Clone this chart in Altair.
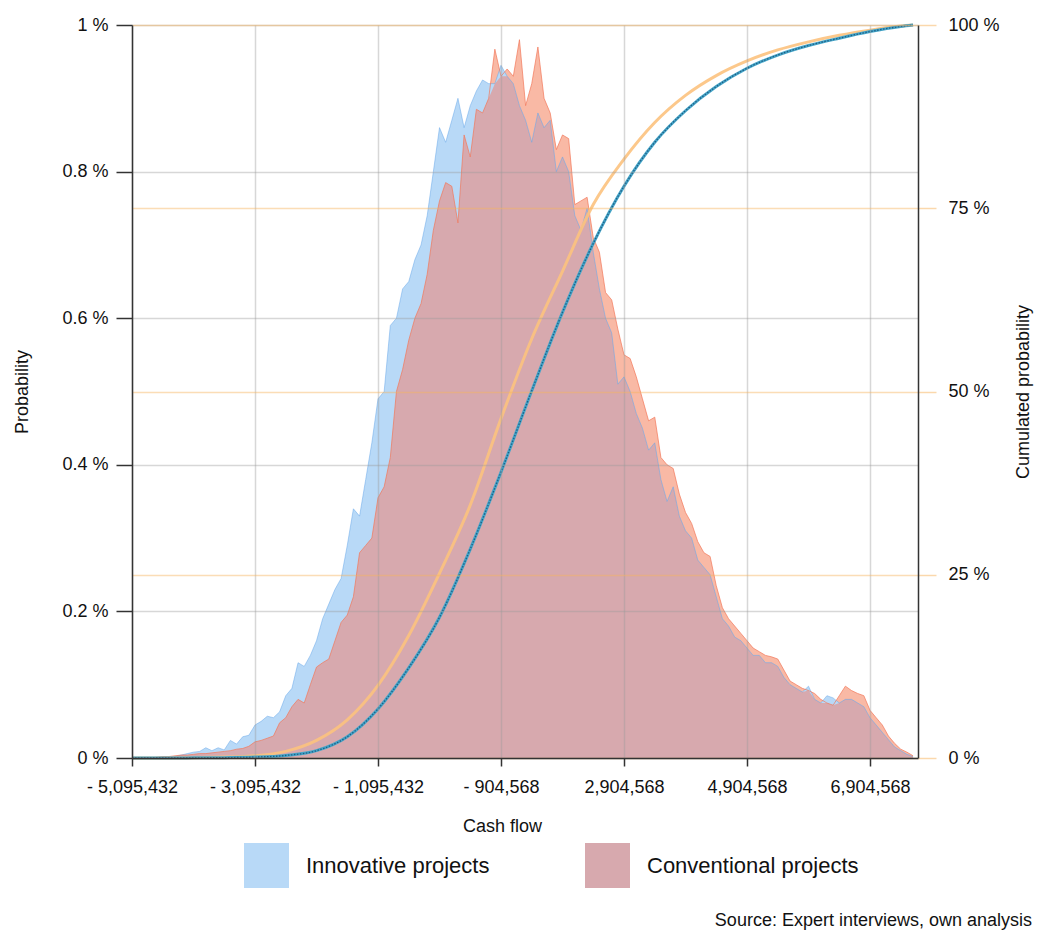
import altair as alt
import pandas as pd

# ---------------- data ----------------
BIN_START = -5_095_432      # cash flow of the first histogram bin
BIN_STEP = 100_000          # width of one histogram bin

# probability per bin, in %
innovative = [
    0, 0, 0, 0, 0, 0.001, 0.001, 0.002, 0.004, 0.006,
    0.008, 0.009, 0.014, 0.010, 0.014, 0.011, 0.024, 0.019, 0.029, 0.031,
    0.045, 0.050, 0.057, 0.055, 0.063, 0.085, 0.095, 0.130, 0.125, 0.140,
    0.160, 0.190, 0.210, 0.230, 0.245, 0.290, 0.340, 0.330, 0.380, 0.430,
    0.490, 0.500, 0.590, 0.600, 0.640, 0.650, 0.680, 0.700, 0.740, 0.800,
    0.860, 0.840, 0.870, 0.900, 0.860, 0.890, 0.910, 0.925, 0.920, 0.920,
    0.945, 0.930, 0.920, 0.890, 0.870, 0.840, 0.880, 0.860, 0.870, 0.800,
    0.820, 0.800, 0.740, 0.720, 0.750, 0.690, 0.640, 0.600, 0.580, 0.510,
    0.520, 0.500, 0.470, 0.450, 0.420, 0.430, 0.380, 0.350, 0.370, 0.330,
    0.310, 0.300, 0.270, 0.260, 0.250, 0.220, 0.190, 0.180, 0.165, 0.160,
    0.150, 0.140, 0.140, 0.130, 0.130, 0.125, 0.110, 0.100, 0.095, 0.090,
    0.098, 0.080, 0.075, 0.085, 0.082, 0.075, 0.080, 0.080, 0.075, 0.070,
    0.055, 0.045, 0.035, 0.025, 0.015, 0.010, 0.005, 0.002,
]
conventional = [
    0, 0, 0, 0, 0.001, 0.002, 0.002, 0.003, 0.004, 0.004,
    0.005, 0.006, 0.006, 0.007, 0.008, 0.009, 0.010, 0.012, 0.013, 0.016,
    0.022, 0.024, 0.027, 0.030, 0.048, 0.055, 0.070, 0.080, 0.075, 0.100,
    0.124, 0.130, 0.135, 0.160, 0.185, 0.195, 0.220, 0.280, 0.290, 0.300,
    0.355, 0.370, 0.410, 0.500, 0.530, 0.570, 0.600, 0.620, 0.660, 0.720,
    0.760, 0.785, 0.780, 0.730, 0.850, 0.820, 0.885, 0.880, 0.900, 0.967,
    0.930, 0.940, 0.930, 0.980, 0.890, 0.920, 0.970, 0.900, 0.880, 0.830,
    0.850, 0.845, 0.755, 0.760, 0.765, 0.710, 0.690, 0.635, 0.625, 0.585,
    0.550, 0.545, 0.520, 0.490, 0.460, 0.465, 0.410, 0.400, 0.395, 0.360,
    0.335, 0.320, 0.295, 0.280, 0.275, 0.235, 0.205, 0.190, 0.180, 0.170,
    0.160, 0.150, 0.145, 0.140, 0.138, 0.135, 0.120, 0.105, 0.100, 0.095,
    0.092, 0.088, 0.080, 0.075, 0.072, 0.085, 0.098, 0.092, 0.088, 0.085,
    0.065, 0.055, 0.045, 0.030, 0.020, 0.012, 0.008, 0.003,
]

# cumulated probability (%), read at every fifth bin
cum_bins = [0, 5, 10, 15, 20, 25, 30, 35, 40, 45, 50, 55, 60, 65, 70, 75,
            80, 85, 90, 95, 100, 105, 110, 115, 120, 125, 127]
cum_innovative = [0, 0.01, 0.05, 0.12, 0.3, 0.9, 2.4, 5.2, 9.9, 16.7, 25.2,
                  34.5, 46.3, 57.2, 66.4, 75.5, 81.7, 86.7, 90.4, 93.1, 95.1,
                  96.6, 97.7, 98.6, 99.3, 99.85, 100]
cum_conventional = [0, 0, 0.02, 0.05, 0.12, 0.35, 1.0, 2.9, 6.7, 12.3, 19.2,
                    28.5, 39.0, 50.1, 60.8, 70.2, 78.0, 84.0, 88.3, 91.6, 94.1,
                    95.9, 97.2, 98.2, 99.1, 99.8, 100]

x_tick_values = [-5_095_432, -3_095_432, -1_095_432, 904_568, 2_904_568,
                 4_904_568, 6_904_568]
x_tick_labels = ["- 5,095,432", "- 3,095,432", "- 1,095,432", "- 904,568",
                 "2,904,568", "4,904,568", "6,904,568"]
x_domain = [-5_095_432, 7_685_056]
prob_ticks = [0, 0.2, 0.4, 0.6, 0.8, 1]
cum_ticks = [0, 25, 50, 75, 100]
series_names = ["Innovative projects", "Conventional projects"]

# ---------------- tables ----------------
hist = pd.DataFrame({
    "cash_flow": [BIN_START + BIN_STEP * i for i in range(len(innovative))],
    "innovative": innovative,
    "conventional": conventional,
})
cum = pd.DataFrame({
    "cash_flow": [BIN_START + BIN_STEP * k for k in cum_bins],
    "cum_innovative": cum_innovative,
    "cum_conventional": cum_conventional,
})

FONT = "Liberation Sans"
DARK = "#333333"

x_label_expr = (
    "[" + ",".join(f"'{l}'" for l in x_tick_labels) + "][indexof(["
    + ",".join(str(v) for v in x_tick_values) + "], datum.value)]"
)

x_enc = alt.X(
    "cash_flow:Q",
    scale=alt.Scale(domain=x_domain, nice=False, zero=False),
    axis=alt.Axis(
        values=x_tick_values, labelExpr=x_label_expr, title="Cash flow",
        grid=True, gridColor="#9a9a9a", gridOpacity=0.4, gridWidth=1.5,
        tickSize=8, tickColor=DARK, tickWidth=1.5,
        domainColor=DARK, domainWidth=1.5,
        labelFontSize=18, labelPadding=12, labelColor="#111",
        labelFlush=False, labelOverlap=False,
        titleFontSize=18, titleFontWeight="normal", titleColor="#111",
        titlePadding=21, titleX=370, zindex=1,
    ),
)

y_left_scale = alt.Scale(domain=[0, 1], nice=False, zero=True)
axis_left = alt.Axis(
    values=prob_ticks, labelExpr="datum.value + ' %'", title="Probability",
    grid=True, gridColor="#9a9a9a", gridOpacity=0.4, gridWidth=1.5,
    tickSize=16, tickColor=DARK, tickWidth=1.5,
    domainColor=DARK, domainWidth=1.5,
    labelFontSize=18, labelPadding=8, labelColor="#111",
    titleFontSize=18, titleFontWeight="normal", titleColor="#111",
    titlePadding=30, zindex=1,
)

y_right_scale = alt.Scale(domain=[0, 100], nice=False, zero=True)
axis_right = alt.Axis(
    orient="right", values=cum_ticks, labelExpr="datum.value + ' %'",
    title="Cumulated probability",
    grid=True, gridColor="#f7b45e", gridOpacity=0.45, gridWidth=1.5,
    tickSize=18, tickColor="#fbd8ac", tickWidth=1.5,
    domainColor=DARK, domainWidth=1.5,
    labelFontSize=18, labelPadding=12, labelColor="#111",
    titleFontSize=18, titleFontWeight="normal", titleColor="#111",
    titleAngle=270, titleBaseline="top", titlePadding=15, zindex=1,
)

color_scale = alt.Scale(domain=series_names, range=["#b8d9f7", "#d7a9ae"])
legend = alt.Legend(
    title=None, orient="none", legendX=112, legendY=818,
    direction="horizontal", symbolType="square", symbolSize=2025,
    symbolStrokeWidth=0, symbolOpacity=1, labelFontSize=22, labelOffset=17,
    columnPadding=95, padding=0, labelColor="#111", labelLimit=400,
)
color_enc = alt.Color("series:N", scale=color_scale, legend=legend)


def y_left(field):
    return alt.Y(field, scale=y_left_scale, axis=axis_left)


def y_right(field):
    return alt.Y(field, scale=y_right_scale, axis=axis_right)


base_h = alt.Chart(hist)

conv_top = base_h.mark_area(color="#f9b9a5", interpolate="linear").encode(
    x=x_enc, y=y_left("conventional:Q"))
innov_area = base_h.transform_calculate(
    series=f"'{series_names[0]}'"
).mark_area(interpolate="linear", opacity=1).encode(
    x=x_enc, y=y_left("innovative:Q"), color=color_enc)
overlap_area = base_h.transform_calculate(
    overlap="min(datum.innovative, datum.conventional)",
    series=f"'{series_names[1]}'",
).mark_area(interpolate="linear", opacity=1).encode(
    x=x_enc, y=y_left("overlap:Q"), color=color_enc)
innov_line = base_h.mark_line(color="#5a9fe6", strokeWidth=1, opacity=0.45).encode(
    x=x_enc, y=y_left("innovative:Q"))
conv_line = base_h.mark_line(color="#f2785a", strokeWidth=1, opacity=0.7).encode(
    x=x_enc, y=y_left("conventional:Q"))

base_c = alt.Chart(cum)
cum_orange = base_c.mark_line(color="#fcc27e", strokeWidth=3, opacity=0.9,
                              interpolate="monotone").encode(
    x=x_enc, y=y_right("cum_innovative:Q"))
cum_teal = base_c.mark_line(color="#45a5c8", strokeWidth=3,
                            interpolate="monotone").encode(
    x=x_enc, y=y_right("cum_conventional:Q"))
cum_teal_dots = base_c.mark_line(color="#1e5d85", strokeWidth=1.3,
                                 strokeDash=[1.5, 1.5],
                                 interpolate="monotone").encode(
    x=x_enc, y=y_right("cum_conventional:Q"))

left = alt.layer(conv_top, innov_area, overlap_area, innov_line, conv_line)
right = alt.layer(cum_orange, cum_teal, cum_teal_dots)

chart = alt.layer(left, right).resolve_scale(y="independent").properties(
    width=786, height=733,
    autosize=alt.AutoSizeParams(type="none"),
    padding={"left": 124, "top": 17, "right": 117, "bottom": 174},
    title=alt.TitleParams(
        "Source: Expert interviews, own analysis", orient="bottom",
        anchor="end", frame="group", fontSize=18, fontWeight="normal",
        color="#111", dx=114, offset=24,
    ),
).configure(font=FONT).configure_view(stroke=None)

chart.save("out.html", embed_options={"renderer": "svg", "actions": False})
